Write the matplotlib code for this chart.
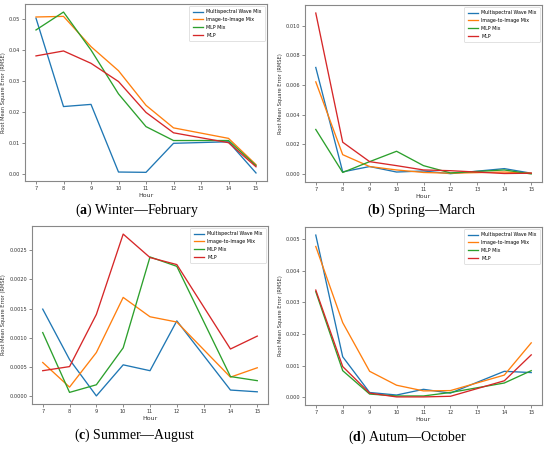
import numpy as np
from matplotlib import pyplot as plt

plt.rcParams['mathtext.fontset'] = 'custom'
plt.rcParams['mathtext.rm'] = 'Liberation Serif'
plt.rcParams['mathtext.bf'] = 'Liberation Serif:bold'

hours = [7, 8, 9, 10, 11, 12, 14, 15]
labels = ["Multispectral Wave Mix", "Image-to-Image Mix", "MLP Mix", "MLP"]

# (a) winter
feb_wave = [0.0504, 0.0218, 0.0225, 0.0006, 0.0005, 0.0099, 0.0104, 0.0003]
feb_i2i = [0.0508, 0.0510, 0.0412, 0.0334, 0.0222, 0.0149, 0.0115, 0.0030]
feb_mlpmix = [0.0466, 0.0524, 0.0401, 0.0259, 0.0153, 0.0108, 0.0108, 0.0027]
feb_mlp = [0.0382, 0.0398, 0.0358, 0.0299, 0.0199, 0.0133, 0.0101, 0.0023]

# (b) spring
mar_wave = [0.00718, 0.00014, 0.00050, 0.00013, 0.00020, 0.00002, 0.00036, 0.00005]
mar_i2i = [0.00621, 0.00130, 0.00050, 0.00027, 0.00010, 0.00005, 0.00013, 0.00005]
mar_mlpmix = [0.00300, 0.00010, 0.00083, 0.00153, 0.00056, 0.00007, 0.00027, 0.00000]
mar_mlp = [0.01085, 0.00214, 0.00083, 0.00056, 0.00027, 0.00022, 0.00003, 0.00005]

# (c) summer
aug_wave = [0.00149, 0.00063, 0.00001, 0.00054, 0.00044, 0.00129, 0.00011, 0.00008]
aug_i2i = [0.00058, 0.00016, 0.00075, 0.00169, 0.00136, 0.00127, 0.00033, 0.00049]
aug_mlpmix = [0.00109, 0.00007, 0.00020, 0.00083, 0.00238, 0.00222, 0.00034, 0.00027]
aug_mlp = [0.00044, 0.00051, 0.00140, 0.00277, 0.00237, 0.00225, 0.00081, 0.00103]

# (d) autumn
oct_wave = [0.00513, 0.00128, 0.00015, 0.00007, 0.00025, 0.00013, 0.00082, 0.00078]
oct_i2i = [0.00477, 0.00236, 0.00082, 0.00038, 0.00020, 0.00021, 0.00070, 0.00172]
oct_mlpmix = [0.00334, 0.00084, 0.00010, 0.00004, 0.00004, 0.00015, 0.00045, 0.00084]
oct_mlp = [0.00339, 0.00097, 0.00013, 0.00001, 0.00001, 0.00003, 0.00052, 0.00134]

captions = [r"($\mathbf{a}$) Winter—February", r"($\mathbf{b}$) Spring—March",
            r"($\mathbf{c}$) Summer—August", r"($\mathbf{d}$) Autum—October"]
series = [[feb_wave, feb_i2i, feb_mlpmix, feb_mlp],
          [mar_wave, mar_i2i, mar_mlpmix, mar_mlp],
          [aug_wave, aug_i2i, aug_mlpmix, aug_mlp],
          [oct_wave, oct_i2i, oct_mlpmix, oct_mlp]]

W, H = 550, 449
# axes boxes in pixels: left, top, right, bottom
boxes = [(25, 4, 267, 181), (305, 5, 542, 182),
         (32, 226, 268, 404), (305, 227, 542, 405)]
cap_pos = [(137, 210), (422, 210), (135, 435), (408, 437)]

fig = plt.figure(figsize=(W / 100, H / 100), dpi=100)
for k in range(4):
    l, t, r, b = boxes[k]
    ax = fig.add_axes([l / W, 1 - b / H, (r - l) / W, (b - t) / H])
    for j in range(4):
        ax.plot(hours, series[k][j], lw=0.95, label=labels[j], color="C%d" % j)
    ax.set_xticks(range(7, 16))
    ax.tick_params(labelsize=3.6, length=2, width=0.4, pad=1.5, colors="#333333")
    for s in ax.spines.values():
        s.set_color("#888888")
        s.set_linewidth(0.8)
    ax.set_xlabel("Hour", fontsize=4.5, labelpad=1.5, color="#333333")
    ax.set_ylabel("Root Mean Square Error (RMSE)", fontsize=3.7, labelpad=2, color="#333333")
    leg = ax.legend(loc="upper right", fontsize=3.4, handlelength=2.1, borderpad=0.7,
                    labelspacing=0.6, framealpha=1, borderaxespad=0.4)
    leg.get_frame().set_linewidth(0.4)
    cx, cy = cap_pos[k]
    fig.text(cx / W, 1 - cy / H, captions[k], ha="center", va="center",
             fontsize=10, family="Liberation Serif")

fig.savefig("out.png", dpi=100)
